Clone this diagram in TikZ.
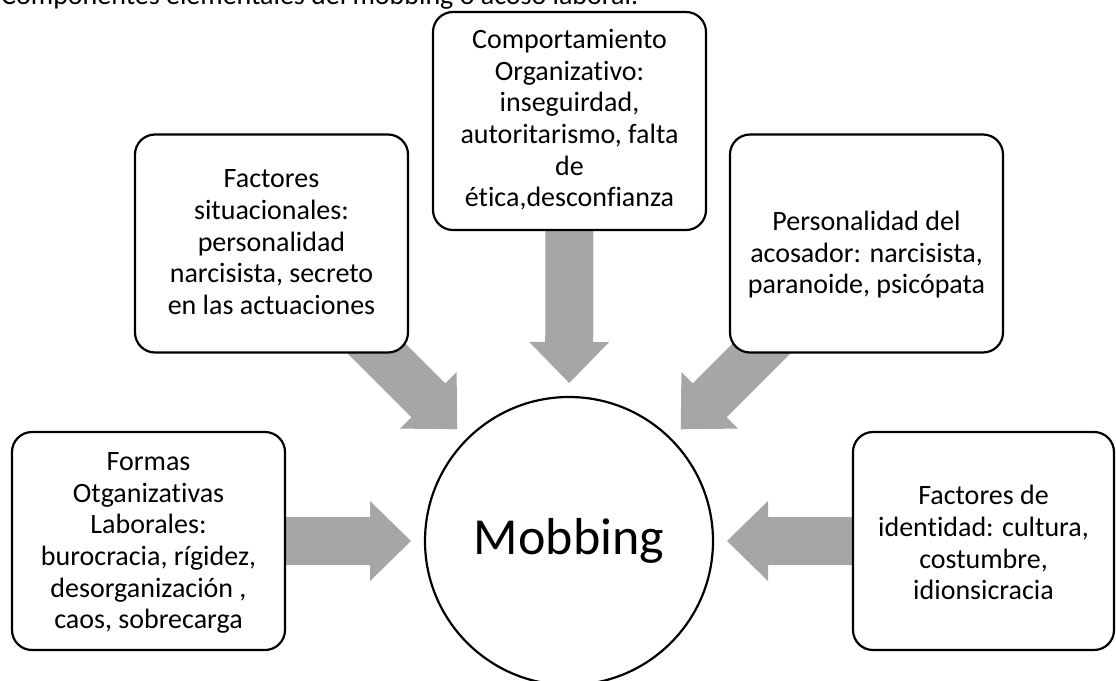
\documentclass[tikz,border=0pt]{standalone}
\usepackage{fontspec}
\setmainfont{Carlito}[Ligatures={TeX,NoCommon}]
\usetikzlibrary{calc,backgrounds}
\definecolor{arrgray}{RGB}{166,166,166}
\tikzset{
  boxnode/.style={draw=black, line width=2.2pt, fill=white, rounded corners=20pt,
    minimum width=273pt, minimum height=218pt, inner sep=0pt},
  boxtext/.style={align=center, font=\fontsize{28}{31.7}\selectfont, inner sep=0pt},
  hub/.style={circle, draw=black, line width=2.2pt, fill=white, minimum size=288pt,
    inner sep=0pt, font=\fontsize{52}{60}\selectfont},
  blockarrow/.style={fill=arrgray, draw=none},
}
% #1 = start node, #2 = tip coordinate
\newcommand\myblockarrow[2]{%
  \coordinate (#2h) at ($(#2)!41pt!(#1.center)$);
  \fill[blockarrow]
    ($(#1.center)!24pt!90:(#2)$) --
    ($(#2h)!24pt!90:(#2)$) --
    ($(#2h)!40pt!90:(#2)$) --
    (#2) --
    ($(#2h)!40pt!-90:(#2)$) --
    ($(#2h)!24pt!-90:(#2)$) --
    ($(#1.center)!24pt!-90:(#2)$) -- cycle;
}
\begin{document}
\begin{tikzpicture}[x=1pt,y=-1pt]
\useasboundingbox (0,0) rectangle (1116,680);

\node[anchor=base west, font=\fontsize{28}{32}\selectfont, inner sep=0pt] (title) at (1,5)
  {Componentes elementales del mobbing o acoso laboral.};

% boxes
\node[boxnode] (L)  at (148.5,541) {};
\node[boxnode, minimum width=261pt] (R) at (983.5,541) {};
\node[boxnode] (TL) at (271.5,243.5) {};
\node[boxnode] (TC) at (569.5,121) {};
\node[boxnode] (TR) at (866.5,243.5) {};

% hub
\node[hub] (mob) at (569,541) {Mobbing};

% texts
\node[boxtext] (Ltext) at (148.5,543) {Formas\\Otganizativas\\Laborales:\\burocracia, rígidez,\\desorganización ,\\caos, sobrecarga};
\node[boxtext] (Rtext) at (983.5,542.7) {Factores de\\identidad: cultura,\\costumbre,\\idionsicracia};
\node[boxtext] (TLtext) at (271.5,242.4) {Factores\\situacionales:\\personalidad\\narcisista, secreto\\en las actuaciones};
\node[boxtext] (TCtext) at (569.5,119.8) {Comportamiento\\Organizativo:\\inseguirdad,\\autoritarismo, falta\\de\\ética,desconfianza};
\node[boxtext] (TRtext) at (866.5,254.7) {Personalidad del\\acosador: narcisista,\\paranoide, psicópata};

% arrow tips
\coordinate (tipL)  at ($(mob.center)!158pt!(L.center)$);
\coordinate (tipR)  at ($(mob.center)!158pt!(R.center)$);
\coordinate (tipTL) at ($(mob.center)!158pt!(TL.center)$);
\coordinate (tipTC) at ($(mob.center)!158pt!(TC.center)$);
\coordinate (tipTR) at ($(mob.center)!158pt!(TR.center)$);

\begin{scope}[on background layer]
  \myblockarrow{L}{tipL}
  \myblockarrow{R}{tipR}
  \myblockarrow{TL}{tipTL}
  \myblockarrow{TC}{tipTC}
  \myblockarrow{TR}{tipTR}
\end{scope}
\end{tikzpicture}
\end{document}
